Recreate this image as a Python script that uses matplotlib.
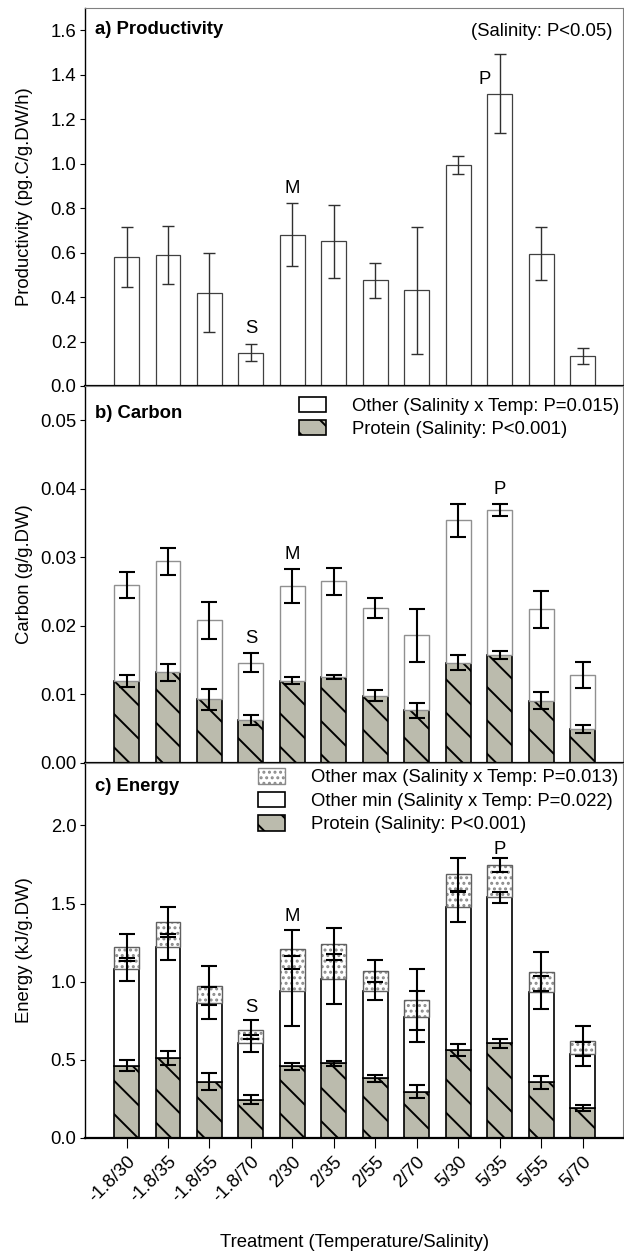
import matplotlib
matplotlib.use('Agg')
import matplotlib.pyplot as plt
from matplotlib.patches import Patch
import numpy as np

plt.rcParams['font.family'] = ['Liberation Sans', 'DejaVu Sans']
plt.rcParams['font.size'] = 13.3
plt.rcParams['hatch.linewidth'] = 1.4

# treatments (temperature/salinity)
treatments = ['-1.8/30', '-1.8/35', '-1.8/55', '-1.8/70', '2/30', '2/35',
              '2/55', '2/70', '5/30', '5/35', '5/55', '5/70']

# a) productivity
prod = [0.58, 0.59, 0.42, 0.15, 0.68, 0.65, 0.475, 0.43, 0.995, 1.315, 0.595, 0.137]
prod_err = [0.135, 0.13, 0.177, 0.037, 0.142, 0.165, 0.078, 0.284, 0.04, 0.176, 0.12, 0.036]

# b) carbon
carbon_total = [0.0260, 0.0294, 0.0208, 0.0146, 0.0258, 0.0265, 0.0226, 0.0186, 0.0354, 0.0369, 0.0224, 0.0129]
carbon_total_err = [0.0019, 0.0020, 0.0027, 0.0014, 0.0025, 0.0020, 0.0015, 0.0038, 0.0024, 0.0009, 0.0027, 0.0019]
carbon_protein = [0.0120, 0.0132, 0.0093, 0.0063, 0.0120, 0.0126, 0.0098, 0.0077, 0.0146, 0.0158, 0.0091, 0.0050]
carbon_protein_err = [0.0009, 0.0012, 0.0015, 0.0007, 0.0005, 0.0003, 0.0008, 0.0011, 0.0011, 0.0006, 0.0012, 0.0006]

# c) energy
energy_max = [1.221, 1.382, 0.975, 0.694, 1.208, 1.24, 1.068, 0.885, 1.688, 1.747, 1.064, 0.622]
energy_max_err = [0.087, 0.094, 0.127, 0.062, 0.125, 0.102, 0.07, 0.194, 0.106, 0.043, 0.125, 0.096]
energy_min = [1.079, 1.221, 0.864, 0.605, 0.941, 1.019, 0.941, 0.777, 1.476, 1.539, 0.932, 0.537]
energy_min_err = [0.075, 0.085, 0.102, 0.055, 0.223, 0.161, 0.06, 0.163, 0.096, 0.034, 0.106, 0.076]
energy_protein = [0.463, 0.51, 0.361, 0.244, 0.459, 0.478, 0.382, 0.297, 0.563, 0.605, 0.355, 0.191]
energy_protein_err = [0.037, 0.045, 0.056, 0.028, 0.022, 0.015, 0.022, 0.04, 0.036, 0.028, 0.043, 0.018]

# letters above bars: (bar index, y) per panel
letters = ['S', 'M', 'P']
letter_pos_a = [(3, 0.26), (4, 0.888), (8.65, 1.38)]
letter_pos_b = [(3, 0.0181), (4, 0.0304), (9, 0.0399)]
letter_pos_c = [(3, 0.832), (4, 1.416), (9, 1.847)]

prot_color = '#bbbbad'
x = np.arange(len(treatments))
w = 0.6

fig = plt.figure(figsize=(6.24, 12.52), dpi=100)
ax1 = fig.add_axes([0.137, 0.6917, 0.861, 0.3019])
ax2 = fig.add_axes([0.137, 0.3906, 0.861, 0.3011])
ax3 = fig.add_axes([0.137, 0.0911, 0.861, 0.2995])


def style_axis(ax):
    ax.set_xlim(-0.99, 11.97)
    for s in ('top', 'right'):
        ax.spines[s].set_color('#808080')
        ax.spines[s].set_linewidth(0.8)
    ax.spines['left'].set_linewidth(1.0)
    ax.spines['bottom'].set_linewidth(1.6)
    ax.tick_params(axis='y', direction='out', length=3.5, width=0.8, pad=3)
    ax.yaxis.set_label_coords(-0.098, 0.5)


# panel a
ax1.bar(x, prod, w, color='white', edgecolor='#404040', linewidth=0.9, zorder=2)
ax1.errorbar(x, prod, yerr=prod_err, fmt='none', ecolor='#303030', elinewidth=1.0,
             capsize=4.3, capthick=1.0, zorder=3)
style_axis(ax1)
ax1.set_ylim(0, 1.7)
ax1.set_yticks(np.arange(0, 1.61, 0.2))
ax1.set_yticklabels(['%.1f' % v for v in np.arange(0, 1.61, 0.2)])
ax1.set_xticks([])
ax1.set_ylabel('Productivity (pg.C/g.DW/h)')
ax1.text(0.018, 0.965, 'a) Productivity', transform=ax1.transAxes, fontweight='bold',
         va='top', ha='left')
ax1.text(0.98, 0.96, '(Salinity: P<0.05)', transform=ax1.transAxes, va='top', ha='right')
for l, (lx, ly) in zip(letters, letter_pos_a):
    ax1.text(lx, ly, l, ha='center', va='center')

# panel b
carbon_other = np.array(carbon_total) - np.array(carbon_protein)
ax2.bar(x, carbon_protein, w, color=prot_color, edgecolor='black', hatch='\\',
        linewidth=1.2, zorder=2)
ax2.bar(x, carbon_other, w, bottom=carbon_protein, color='white', edgecolor='#909090',
        linewidth=1.0, zorder=2)
ax2.errorbar(x, carbon_total, yerr=carbon_total_err, fmt='none', ecolor='black',
             elinewidth=1.5, capsize=5.7, capthick=1.5, zorder=3)
ax2.errorbar(x, carbon_protein, yerr=carbon_protein_err, fmt='none', ecolor='black',
             elinewidth=1.5, capsize=5.7, capthick=1.5, zorder=3)
style_axis(ax2)
ax2.set_ylim(0, 0.055)
ax2.set_yticks(np.arange(0, 0.051, 0.01))
ax2.set_yticklabels(['%.2f' % v for v in np.arange(0, 0.051, 0.01)])
ax2.set_xticks([])
ax2.set_ylabel('Carbon (g/g.DW)')
ax2.text(0.018, 0.95, 'b) Carbon', transform=ax2.transAxes, fontweight='bold',
         va='top', ha='left')
for l, (lx, ly) in zip(letters, letter_pos_b):
    ax2.text(lx, ly, l, ha='center', va='center')
handles_b = [Patch(facecolor='white', edgecolor='black', linewidth=1.2),
             Patch(facecolor=prot_color, edgecolor='black', hatch='\\', linewidth=1.2)]
ax2.legend(handles_b, ['Other (Salinity x Temp: P=0.015)', 'Protein (Salinity: P<0.001)'],
           loc='upper right', bbox_to_anchor=(0.994, 0.972), frameon=False,
           handlelength=1.5, handleheight=0.9, handletextpad=1.4, labelspacing=0.3,
           borderpad=0, borderaxespad=0)

# panel c
e_prot = np.array(energy_protein)
e_min = np.array(energy_min)
e_max = np.array(energy_max)
ax3.bar(x, e_prot, w, color=prot_color, edgecolor='black', hatch='\\',
        linewidth=1.2, zorder=2)
ax3.bar(x, e_min - e_prot, w, bottom=e_prot, color='white', edgecolor='black',
        linewidth=1.2, zorder=2)
# dotted part: stipple in gray, outline on top
ax3.bar(x, e_max - e_min, w, bottom=e_min, color='white', edgecolor='#8a8a8a',
        hatch='...', linewidth=0, zorder=2)
ax3.bar(x, e_max - e_min, w, bottom=e_min, fill=False, edgecolor='#606060',
        linewidth=1.0, zorder=2)
for vals, errs in ((energy_max, energy_max_err), (energy_min, energy_min_err),
                   (energy_protein, energy_protein_err)):
    ax3.errorbar(x, vals, yerr=errs, fmt='none', ecolor='black', elinewidth=1.5,
                 capsize=5.7, capthick=1.5, zorder=3)
style_axis(ax3)
ax3.set_ylim(0, 2.4)
ax3.set_yticks(np.arange(0, 2.01, 0.5))
ax3.set_yticklabels(['%.1f' % v for v in np.arange(0, 2.01, 0.5)])
ax3.set_xticks(x)
ax3.set_xticklabels(treatments, rotation=45, ha='right', va='top', rotation_mode='anchor')
ax3.tick_params(axis='x', direction='out', length=7, width=0.8, pad=4)
ax3.set_ylabel('Energy (kJ/g.DW)')
ax3.set_xlabel('Treatment (Temperature/Salinity)')
ax3.xaxis.set_label_coords(0.5, -0.255)
ax3.text(0.018, 0.96, 'c) Energy', transform=ax3.transAxes, fontweight='bold',
         va='top', ha='left')
for l, (lx, ly) in zip(letters, letter_pos_c):
    ax3.text(lx, ly, l, ha='center', va='center')
handles_c = [Patch(facecolor='white', edgecolor='#8a8a8a', hatch='...', linewidth=1.0),
             Patch(facecolor='white', edgecolor='black', linewidth=1.2),
             Patch(facecolor=prot_color, edgecolor='black', hatch='\\', linewidth=1.2)]
ax3.legend(handles_c, ['Other max (Salinity x Temp: P=0.013)',
                       'Other min (Salinity x Temp: P=0.022)',
                       'Protein (Salinity: P<0.001)'],
           loc='upper right', bbox_to_anchor=(0.992, 0.986), frameon=False,
           handlelength=1.5, handleheight=0.9, handletextpad=1.4, labelspacing=0.3,
           borderpad=0, borderaxespad=0)

plt.savefig('out.png', dpi=100)
